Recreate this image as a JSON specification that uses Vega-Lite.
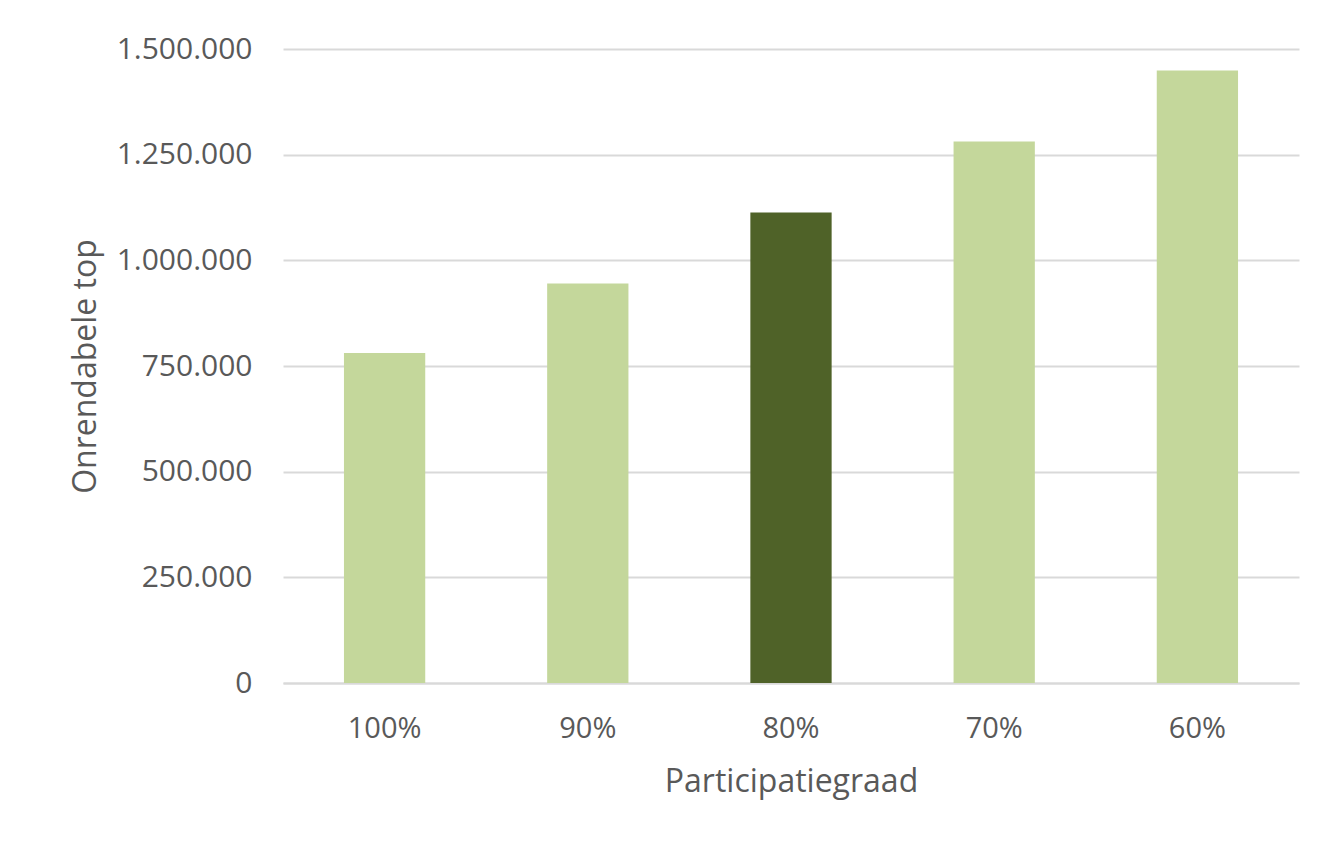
{
  "$schema": "https://vega.github.io/schema/vega-lite/v6.json",
  "width": 1016,
  "height": 634,
  "autosize": {"type": "none"},
  "padding": {"left": 283, "top": 49, "right": 29, "bottom": 159},
  "background": "white",
  "config": {
    "locale": {"number": {"decimal": ",", "thousands": ".", "grouping": [3], "currency": ["€", ""]}},
    "view": {"stroke": null},
    "font": "Open Sans"
  },
  "data": {
    "values": [
      {"graad": "100%", "waarde": 781000, "highlight": "nee"},
      {"graad": "90%", "waarde": 945000, "highlight": "nee"},
      {"graad": "80%", "waarde": 1113000, "highlight": "ja"},
      {"graad": "70%", "waarde": 1281000, "highlight": "nee"},
      {"graad": "60%", "waarde": 1449000, "highlight": "nee"}
    ]
  },
  "mark": {"type": "bar"},
  "encoding": {
    "x": {
      "field": "graad",
      "type": "nominal",
      "sort": null,
      "scale": {"paddingInner": 0.6, "paddingOuter": 0.3},
      "axis": {
        "title": "Participatiegraad",
        "labelAngle": 0,
        "labelFontSize": 29,
        "labelColor": "#595959",
        "labelPadding": 31,
        "titleFontSize": 32,
        "titleFontWeight": "normal",
        "titleColor": "#595959",
        "titlePadding": 23,
        "ticks": false,
        "domain": true,
        "domainColor": "#D9D9D9",
        "domainWidth": 2
      }
    },
    "y": {
      "field": "waarde",
      "type": "quantitative",
      "scale": {"domain": [0, 1500000], "nice": false},
      "axis": {
        "title": "Onrendabele top",
        "values": [0, 250000, 500000, 750000, 1000000, 1250000, 1500000],
        "format": ",d",
        "labelFontSize": 30,
        "labelColor": "#595959",
        "labelPadding": 31,
        "titleFontSize": 32,
        "titleFontWeight": "normal",
        "titleColor": "#595959",
        "titlePadding": 14,
        "ticks": false,
        "domain": false,
        "grid": true,
        "gridColor": "#D9D9D9",
        "gridWidth": 2
      }
    },
    "color": {
      "field": "highlight",
      "type": "nominal",
      "scale": {"domain": ["nee", "ja"], "range": ["#C4D79B", "#4F6228"]},
      "legend": null
    }
  }
}
